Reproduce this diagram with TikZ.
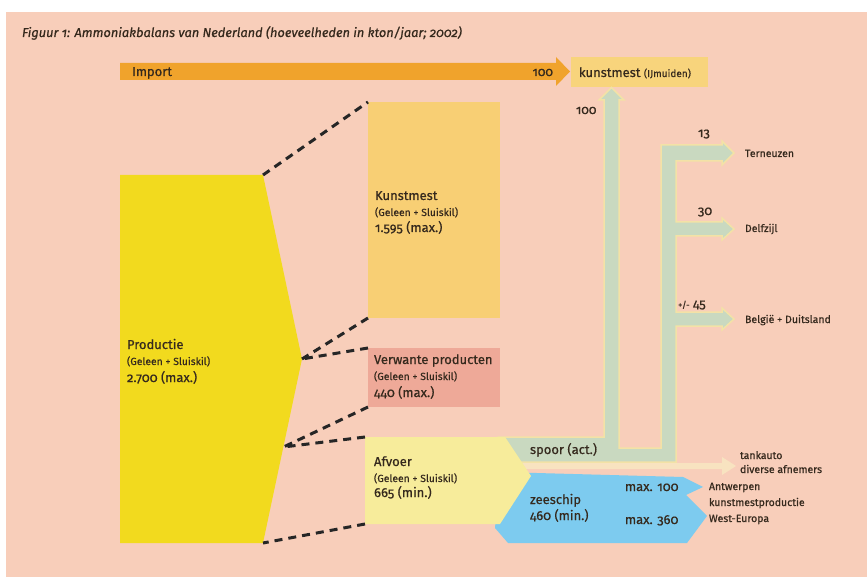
\documentclass[tikz,border=0pt]{standalone}
\usepackage{fontspec}
\setmainfont{Fira Sans}[Numbers=OldStyle, FakeBold=0.6]
\definecolor{bg}{HTML}{F8CEBA}
\definecolor{prod}{HTML}{F2DA1E}
\definecolor{kmbox}{HTML}{F8CF74}
\definecolor{verw}{HTML}{EEA998}
\definecolor{afv}{HTML}{F7EC9B}
\definecolor{imp}{HTML}{F0A32C}
\definecolor{ijm}{HTML}{F8D47C}
\definecolor{spoor}{HTML}{C9D9C0}
\definecolor{spoorrand}{HTML}{F3E2A6}
\definecolor{zee}{HTML}{7DCBEF}
\definecolor{tank}{HTML}{F8E3C0}
\definecolor{txt}{HTML}{35291D}
\tikzset{
  lbl/.style={anchor=base west, font=\fontsize{13}{15}\selectfont},
  sub/.style={anchor=base west, font=\fontsize{10.3}{12}\selectfont},
  val/.style={anchor=base west, font=\fontsize{13}{15}\selectfont},
  dest/.style={anchor=base west, font=\fontsize{10.5}{12}\selectfont},
  num/.style={anchor=base west, font=\fontsize{13}{15}\selectfont},
  boxnode/.style={draw=none, inner sep=0pt, outer sep=0pt},
  dashline/.style={draw=black!85, line width=3pt, dash pattern=on 8pt off 6pt}
}
\begin{document}
\begin{tikzpicture}[x=1pt,y=-1pt, every node/.style={inner sep=0pt,outer sep=0pt,text=txt}]
\useasboundingbox (0,0) rectangle (867,577);
\fill[white] (0,0) rectangle (867,577);
\fill[bg] (6,12) rectangle (867,577);

% title
\node[anchor=base west, font=\itshape\fontsize{12.8}{14}\selectfont] (title) at (22,37)
  {Figuur 1: Ammoniakbalans van Nederland (hoeveelheden in kton/jaar; 2002)};

% import arrow
\fill[imp] (120,63) -- (556,63) -- (556,57) -- (570,71.5) -- (556,86) -- (556,80) -- (120,80) -- cycle;
\node[lbl] (import) at (132,76) {Import};
\node[anchor=base east, font=\fontsize{12.5}{14}\selectfont] (imp100) at (553,76) {100};

% kunstmest IJmuiden box
\node[boxnode, fill=ijm, minimum width=137pt, minimum height=30pt] (ijmbox) at (639.5,72) {};
\node[anchor=base west] (ijmtext) at (579,77)
  {\fontsize{13}{15}\selectfont kunstmest \fontsize{10}{12}\selectfont(IJmuiden)};

% green spoor structure
\filldraw[fill=spoor, draw=spoorrand, line width=1.5pt, line join=miter]
  (498,462) -- (498,437) -- (604,437) -- (604,100) -- (599,100) -- (611.5,87.5) -- (624,100) -- (619,100)
  -- (619,448) -- (661,448) -- (661,145) -- (722,145) -- (722,141) -- (734,153) -- (722,165) -- (722,161)
  -- (676,161) -- (676,222) -- (722,222) -- (722,218) -- (734,229) -- (722,240) -- (722,236)
  -- (676,236) -- (676,312) -- (722,312) -- (722,308) -- (734,319) -- (722,330) -- (722,326)
  -- (676,326) -- (676,462) -- cycle;

% tankauto arrow
\fill[tank] (505,463) -- (722,463) -- (722,457) -- (736,466) -- (722,475) -- (722,469) -- (505,469) -- cycle;

% zeeschip
\fill[zee] (500,472) -- (683,477) -- (703,487) -- (686,495) -- (707,516) -- (687,543) -- (508,543) -- (495,528) -- cycle;

% afvoer
\coordinate (afTL) at (365,437);
\coordinate (afBL) at (365,524);
\fill[afv] (afTL) -- (505,437) -- (531,476) -- (500,524) -- (afBL) -- cycle;

% productie
\coordinate (pTL) at (120,175);
\coordinate (pTR) at (263,175);
\coordinate (pP) at (302,359);
\coordinate (pM) at (283.5,447);
\coordinate (pBR) at (263,543);
\coordinate (pBL) at (120,543);
\fill[prod] (pTL) -- (pTR) -- (pP) -- (pBR) -- (pBL) -- cycle;

% boxes
\node[boxnode, fill=kmbox, minimum width=132pt, minimum height=216pt] (kbox) at (434,210) {};
\node[boxnode, fill=verw, minimum width=132pt, minimum height=59pt] (vbox) at (434,377.5) {};

% dashed lines
\draw[dashline] (pTR) -- (kbox.north west);
\draw[dashline] (kbox.south west) -- (pP);
\draw[dashline] (vbox.north west) -- (pP);
\draw[dashline] (vbox.south west) -- (pM);
\draw[dashline] (afTL) -- (pM);
\draw[dashline] (afBL) -- (pBR);

% texts: productie
\node[lbl] (prodA) at (127,349) {Productie};
\node[sub] (prodB) at (127,365) {(Geleen + Sluiskil)};
\node[val] (prodC) at (127,382) {2.700 (max.)};
% kunstmest
\node[lbl] (kmA) at (375,200) {Kunstmest};
\node[sub] (kmB) at (375,216) {(Geleen + Sluiskil)};
\node[val] (kmC) at (375,232) {1.595 (max.)};
% verwante
\node[lbl] (vA) at (374,364) {Verwante producten};
\node[sub] (vB) at (374,380) {(Geleen + Sluiskil)};
\node[val] (vC) at (374,397) {440 (max.)};
% afvoer
\node[lbl] (aA) at (374,466) {Afvoer};
\node[sub] (aB) at (374,482) {(Geleen + Sluiskil)};
\node[val] (aC) at (374,497) {665 (min.)};

% spoor / zeeschip
\node[val] (spoorT) at (530,454) {spoor (act.)};
\node[val] (zeeA) at (530,504) {zeeschip};
\node[val] (zeeB) at (530,520) {460 (min.)};
\node[val] (max100) at (625,491) {max. 100};
\node[val] (max360) at (625,524) {max. 360};

% destinations
\node[dest] (antw) at (709,490) {Antwerpen};
\node[dest] (kmp) at (709,506) {kunstmestproductie};
\node[dest] (weu) at (709,522) {West-Europa};
\node[dest] (tank1) at (740,459) {tankauto};
\node[dest] (tank2) at (740,473) {diverse afnemers};
\node[dest] (tern) at (745,157) {Terneuzen};
\node[dest] (delf) at (745,232) {Delfzijl};
\node[dest] (beld) at (745,323) {België + Duitsland};

% numbers
\node[anchor=base west, font=\fontsize{12.5}{14}\selectfont] (n100) at (576,114) {100};
\node[num] (n13) at (698,137) {13};
\node[num] (n30) at (698,215) {30};
\node[anchor=base west, font=\fontsize{9}{10}\selectfont] (npm) at (678,308) {+/-};
\node[num] (n45) at (693,308) {45};
\end{tikzpicture}
\end{document}
